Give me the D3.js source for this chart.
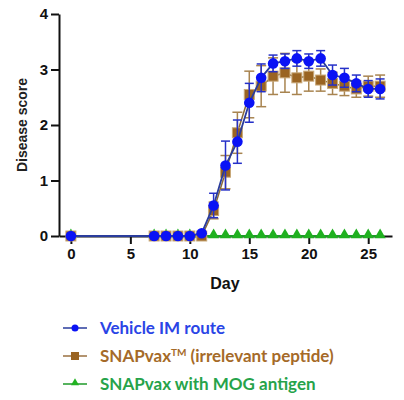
<!DOCTYPE html>
<html>
<head>
<meta charset="utf-8">
<script src="https://cdn.jsdelivr.net/npm/d3@7"></script>
<style>
  body { margin: 0; background: #fff; }
  svg { display: block; }
</style>
</head>
<body>
<div id="chart"></div>
<script>
// days measured
var days = [0, 7, 8, 9, 10, 11, 12, 13, 14, 15, 16, 17, 18, 19, 20, 21, 22, 23, 24, 25, 26];

var vehicleMean = [0, 0, 0, 0, 0, 0.05, 0.55, 1.27, 1.70, 2.40, 2.85, 3.11, 3.15, 3.20, 3.15, 3.20, 2.90, 2.85, 2.75, 2.65, 2.65];
var vehicleErr  = [0, 0, 0, 0, 0, 0, 0.22, 0.44, 0.39, 0.35, 0.25, 0.15, 0.13, 0.14, 0.13, 0.14, 0.18, 0.17, 0.15, 0.15, 0.18];

var irrMean = [0, 0, 0, 0, 0, 0, 0.46, 1.15, 1.86, 2.55, 2.70, 2.88, 2.94, 2.85, 2.88, 2.81, 2.75, 2.70, 2.65, 2.70, 2.70];
var irrErr  = [0, 0, 0, 0, 0, 0, 0.15, 0.30, 0.37, 0.42, 0.37, 0.33, 0.35, 0.30, 0.27, 0.20, 0.20, 0.17, 0.15, 0.18, 0.20];

var mogMean = [0, 0, 0, 0, 0, 0, 0, 0, 0, 0, 0, 0, 0, 0, 0, 0, 0, 0, 0, 0, 0];

var xTicks = [0, 5, 10, 15, 20, 25];
var yTicks = [0, 1, 2, 3, 4];

var legendLabels = ["Vehicle IM route", "SNAPvax", "SNAPvax with MOG antigen"];

var width = 404, height = 400;

var svg = d3.select("#chart").append("svg")
    .attr("width", width)
    .attr("height", height);

var x = d3.scaleLinear().domain([-1, 27]).range([59, 392]);
var y = d3.scaleLinear().domain([0, 4]).range([236, 14]);

function styleAxis(g) {
    g.selectAll("path, line").attr("stroke", "#111").attr("stroke-width", 2);
    g.selectAll("text")
        .style("font-family", "'Liberation Sans', Arial, sans-serif")
        .style("font-weight", "bold")
        .style("font-size", "15px")
        .attr("fill", "#111");
}

// axes
svg.append("g")
    .attr("transform", "translate(0," + y(0) + ")")
    .call(d3.axisBottom(x).tickValues(xTicks).tickFormat(d3.format("d"))
        .tickSizeOuter(0).tickSizeInner(8).tickPadding(4))
    .call(styleAxis);

svg.append("g")
    .attr("transform", "translate(" + x(-1) + ",0)")
    .call(d3.axisLeft(y).tickValues(yTicks).tickFormat(d3.format("d"))
        .tickSizeOuter(0).tickSizeInner(8).tickPadding(3))
    .call(styleAxis);

svg.append("text")
    .attr("transform", "translate(27," + y(2) + ") rotate(-90)")
    .attr("text-anchor", "middle")
    .style("font-family", "'Liberation Sans', Arial, sans-serif")
    .style("font-size", "14px")
    .style("font-weight", "bold")
    .style("fill", "#222")
    .text("Disease score");

svg.append("text")
    .attr("x", 225)
    .attr("y", 289)
    .attr("text-anchor", "middle")
    .style("font-family", "'Liberation Sans', Arial, sans-serif")
    .style("font-size", "16px")
    .style("font-weight", "bold")
    .style("fill", "#111")
    .text("Day");

function rows(mean, err) {
    return days.map(function (d, i) {
        return { day: d, v: mean[i], e: err ? err[i] : 0 };
    });
}

var line = d3.line()
    .x(function (d) { return x(d.day); })
    .y(function (d) { return y(d.v); });

function drawErr(g, data, color, cap) {
    var eb = g.selectAll("g.err").data(data.filter(function (d) { return d.e > 0; }))
        .enter().append("g").attr("class", "err")
        .attr("stroke", color).attr("stroke-width", 1.5);
    eb.append("line")
        .attr("x1", function (d) { return x(d.day); })
        .attr("x2", function (d) { return x(d.day); })
        .attr("y1", function (d) { return y(d.v - d.e); })
        .attr("y2", function (d) { return y(d.v + d.e); });
    [-1, 1].forEach(function (s) {
        eb.append("line")
            .attr("x1", function (d) { return x(d.day) - cap; })
            .attr("x2", function (d) { return x(d.day) + cap; })
            .attr("y1", function (d) { return y(d.v + s * d.e); })
            .attr("y2", function (d) { return y(d.v + s * d.e); });
    });
}

var triangle = d3.symbol().type(d3.symbolTriangle).size(55);

// MOG group (green) drawn first
var mog = rows(mogMean);
var gMog = svg.append("g");
gMog.append("path").datum(mog).attr("d", line)
    .attr("fill", "none").attr("stroke", "#1f9a2a").attr("stroke-width", 2);
gMog.selectAll("path.pt").data(mog).enter().append("path")
    .attr("class", "pt")
    .attr("d", triangle)
    .attr("transform", function (d) { return "translate(" + x(d.day) + "," + (y(d.v) - 1) + ")"; })
    .attr("fill", "#1fb01f");

// irrelevant peptide (brown)
var irr = rows(irrMean, irrErr);
var gIrr = svg.append("g");
drawErr(gIrr, irr, "#a88450", 5);
gIrr.append("path").datum(irr).attr("d", line)
    .attr("fill", "none").attr("stroke", "#8a6a3a").attr("stroke-width", 1.5);
gIrr.selectAll("rect.pt").data(irr).enter().append("rect")
    .attr("class", "pt")
    .attr("x", function (d) { return x(d.day) - 5; })
    .attr("y", function (d) { return y(d.v) - 5; })
    .attr("width", 10).attr("height", 10)
    .attr("fill", "#9a6422")
    .attr("stroke", "#c8a878").attr("stroke-width", 1);

// vehicle (blue)
var veh = rows(vehicleMean, vehicleErr);
var gVeh = svg.append("g");
drawErr(gVeh, veh, "#2530c8", 4.5);
gVeh.append("path").datum(veh).attr("d", line)
    .attr("fill", "none").attr("stroke", "#2a3c9c").attr("stroke-width", 1.8);
gVeh.selectAll("circle").data(veh).enter().append("circle")
    .attr("cx", function (d) { return x(d.day); })
    .attr("cy", function (d) { return y(d.v); })
    .attr("r", 5.3)
    .attr("fill", "#0a12f5");

// legend
var legColors = ["#2a44e6", "#a56a28", "#26a34a"];
var symColors = ["#0a12f5", "#9a6422", "#22b322"];
var lineColors = ["#2a3c9c", "#9a7040", "#1f9a2a"];
var legY = [328, 356, 384];

legendLabels.forEach(function (lab, i) {
    var g = svg.append("g").attr("transform", "translate(0," + legY[i] + ")");
    g.append("line").attr("x1", 63).attr("x2", 87).attr("y1", 0).attr("y2", 0)
        .attr("stroke", lineColors[i]).attr("stroke-width", 1.5);
    if (i == 0) {
        g.append("circle").attr("cx", 75).attr("cy", 0).attr("r", 3.5).attr("fill", symColors[i]);
    } else if (i == 1) {
        g.append("rect").attr("x", 71).attr("y", -4).attr("width", 8).attr("height", 8).attr("fill", symColors[i]);
    } else {
        g.append("path").attr("d", d3.symbol().type(d3.symbolTriangle).size(28))
            .attr("transform", "translate(75,-1)").attr("fill", symColors[i]);
    }
    var t = g.append("text")
        .attr("x", 100).attr("y", 6)
        .style("font-family", "Lato, 'Open Sans', sans-serif")
        .style("font-size", "17px")
        .style("font-weight", "bold")
        .style("fill", legColors[i])
        .text(lab);
    if (i == 1) {
        t.append("tspan").attr("dy", -6).style("font-size", "10px").text("TM");
        t.append("tspan").attr("dy", 6).text(" (irrelevant peptide)");
    }
});
</script>
</body>
</html>
